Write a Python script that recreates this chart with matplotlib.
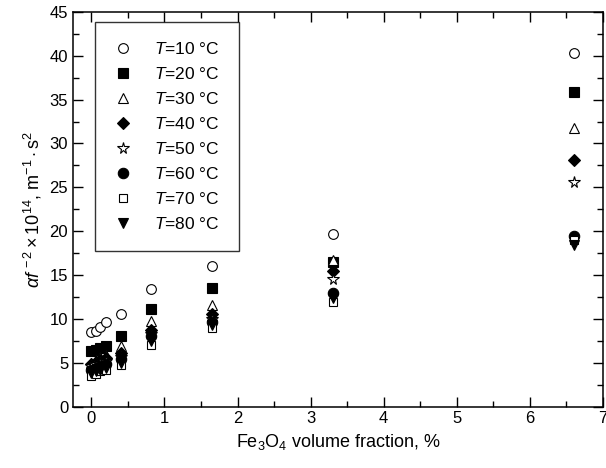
from matplotlib import pyplot as plt
from matplotlib.ticker import MultipleLocator

plt.rcParams['font.family'] = ['Liberation Sans', 'DejaVu Sans']
plt.rcParams['mathtext.fontset'] = 'custom'
plt.rcParams['mathtext.rm'] = 'Liberation Sans'
plt.rcParams['mathtext.it'] = 'Liberation Sans:italic'

# volume fraction of Fe3O4, %
frac = [0, 0.06, 0.12, 0.2, 0.41, 0.82, 1.65, 3.3, 6.6]

temps = [10, 20, 30, 40, 50, 60, 70, 80]
t10 = [8.5, 8.6, 9.1, 9.6, 10.5, 13.4, 16.0, 19.7, 40.3]
t20 = [6.3, 6.5, 6.7, 6.9, 8.0, 11.1, 13.5, 16.5, 35.9]
t30 = [5.0, 5.3, 5.6, 5.9, 6.9, 9.7, 11.6, 16.7, 31.8]
t40 = [4.9, 5.1, 5.3, 5.5, 6.1, 8.7, 10.5, 15.4, 28.1]
t50 = [4.6, 4.8, 5.0, 5.2, 5.7, 8.3, 10.0, 14.5, 25.6]
t60 = [4.2, 4.4, 4.6, 4.8, 5.4, 8.0, 9.6, 13.0, 19.4]
t70 = [3.5, 3.7, 4.0, 4.2, 4.7, 7.0, 9.0, 11.9, 19.0]
t80 = [3.8, 4.0, 4.2, 4.4, 5.0, 7.5, 9.3, 12.4, 18.4]

series = [t10, t20, t30, t40, t50, t60, t70, t80]
# marker, filled?, size
styles = [('o', False, 7), ('s', True, 6.5), ('^', False, 7.5), ('D', True, 6),
          ('*', False, 8.5), ('o', True, 7.5), ('s', False, 6), ('v', True, 7.5)]

fig = plt.figure(figsize=(6.06, 4.68), dpi=100)
ax = fig.add_axes([0.1205, 0.1314, 0.8746, 0.843])

for T, y, (m, filled, ms) in zip(temps, series, styles):
    ax.plot(frac, y, linestyle='none', marker=m, markersize=ms,
            markerfacecolor='black' if filled else 'white',
            markeredgecolor='black', markeredgewidth=0.8,
            label=r'$T$=%d °C' % T)

ax.set_xlim(-0.25, 7)
ax.set_ylim(0, 45)
ax.xaxis.set_major_locator(MultipleLocator(1))
ax.xaxis.set_minor_locator(MultipleLocator(0.5))
ax.yaxis.set_major_locator(MultipleLocator(5))
ax.yaxis.set_minor_locator(MultipleLocator(2.5))
ax.tick_params(which='both', direction='in', top=True, right=True, labelsize=12, width=1)
ax.tick_params(which='major', length=7)
ax.tick_params(which='minor', length=4)
for s in ax.spines.values():
    s.set_linewidth(1.1)

ax.set_xlabel(r'Fe$_3$O$_4$ volume fraction, %', fontsize=13)
ax.set_ylabel(r'$\alpha f^{\,-2}\times10^{14}$, m$^{-1}\cdot$s$^2$', fontsize=13)

leg = ax.legend(loc='upper left', bbox_to_anchor=(0.042, 0.975), borderaxespad=0,
                fontsize=12.5, frameon=True, fancybox=False, edgecolor='black',
                handlelength=1.0, handletextpad=1.3, labelspacing=0.52,
                borderpad=1.1)
leg.get_frame().set_linewidth(1.0)

fig.savefig('out.png', dpi=100)
